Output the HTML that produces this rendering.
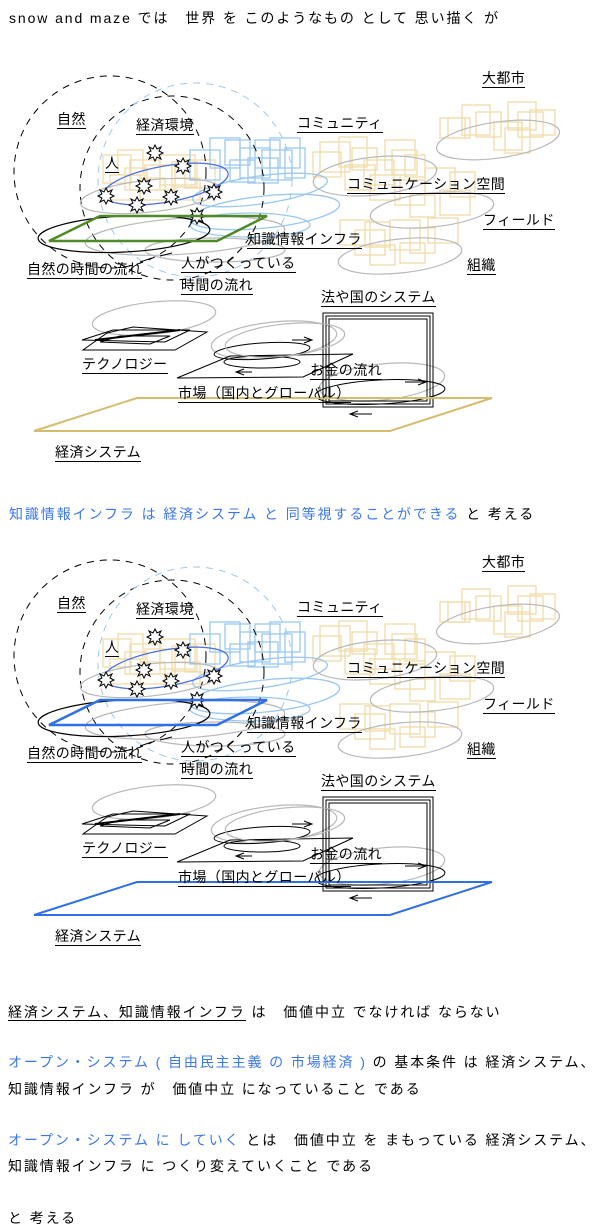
<!DOCTYPE html>
<html><head><meta charset="utf-8">
<style>
body{margin:0;width:600px;height:1229px;position:relative;background:#fff;font-family:"Liberation Sans","Noto Sans CJK JP",sans-serif;font-size:14px;color:#000;overflow:hidden}
.t{position:absolute;white-space:nowrap;line-height:16px;letter-spacing:1.9px}
.l{position:absolute;white-space:nowrap;line-height:15px;border-bottom:1.5px solid #000;padding-bottom:1px;letter-spacing:0.4px}
.b{color:#3b78e8}
svg{position:absolute;left:0;top:0}
</style></head><body>
<svg width="600" height="1229" viewBox="0 0 600 1229">
<defs>
<symbol id="st" viewBox="-8 -8 16 16" overflow="visible">
<polygon points="0,-8 2,-4 6,-6 4,-2 8,0 4,2 6,6 2,4 0,8 -2,4 -6,6 -4,2 -8,0 -4,-2 -6,-6 -2,-4" fill="#fff" stroke="#000" stroke-width="1"/>
</symbol>
<g id="d" fill="none">
 <g stroke="#f0dca8" stroke-width="1.3">
  <rect x="103" y="155" width="28" height="28"/><rect x="118" y="150" width="25" height="25"/><rect x="130" y="160" width="30" height="30"/><rect x="145" y="165" width="30" height="25"/><rect x="160" y="155" width="35" height="30"/><rect x="172" y="162" width="25" height="25"/><rect x="185" y="160" width="30" height="28"/><rect x="110" y="175" width="30" height="25"/><rect x="140" y="178" width="25" height="22"/><rect x="175" y="178" width="25" height="22"/><rect x="125" y="168" width="22" height="22"/>
  <rect x="440" y="118" width="25" height="20"/><rect x="462" y="105" width="28" height="30"/><rect x="476" y="112" width="25" height="25"/><rect x="508" y="102" width="28" height="28"/><rect x="518" y="112" width="25" height="25"/><rect x="494" y="122" width="28" height="28"/><rect x="505" y="128" width="25" height="25"/><rect x="448" y="118" width="22" height="20"/><rect x="530" y="110" width="25" height="25"/>
  <rect x="313" y="152" width="28" height="25"/><rect x="320" y="142" width="30" height="30"/><rect x="339" y="137" width="28" height="30"/><rect x="352" y="148" width="25" height="22"/><rect x="385" y="140" width="30" height="30"/><rect x="392" y="150" width="25" height="25"/><rect x="364" y="160" width="30" height="25"/><rect x="345" y="165" width="30" height="25"/><rect x="405" y="155" width="20" height="22"/>
  <rect x="370" y="175" width="30" height="25"/><rect x="395" y="180" width="30" height="25"/><rect x="425" y="168" width="30" height="25"/><rect x="450" y="172" width="25" height="25"/><rect x="440" y="190" width="30" height="25"/><rect x="410" y="195" width="25" height="22"/>
  <rect x="340" y="220" width="30" height="25"/><rect x="365" y="222" width="25" height="25"/><rect x="390" y="220" width="30" height="30"/><rect x="410" y="228" width="25" height="25"/><rect x="428" y="218" width="30" height="25"/><rect x="400" y="243" width="25" height="20"/><rect x="370" y="245" width="25" height="20"/><rect x="355" y="230" width="30" height="25"/>
 </g>
 <g stroke="#9cc8f0" stroke-width="1.3">
  <rect x="210" y="138" width="30" height="30"/><rect x="225" y="140" width="25" height="25"/><rect x="240" y="148" width="30" height="30"/><rect x="255" y="140" width="25" height="28"/><rect x="270" y="138" width="30" height="30"/><rect x="285" y="148" width="20" height="30"/><rect x="248" y="158" width="30" height="25"/><rect x="262" y="150" width="30" height="30"/><rect x="190" y="150" width="30" height="30"/><rect x="230" y="160" width="25" height="22"/>
  <ellipse cx="260" cy="190" rx="68" ry="14" transform="rotate(-8 260 190)"/>
  <ellipse cx="265" cy="212" rx="75" ry="16" transform="rotate(-6 265 212)"/>
  <ellipse cx="250" cy="225" rx="60" ry="12"/>
 </g>
 <circle cx="110" cy="172" r="96" stroke="#000" stroke-dasharray="7,6"/>
 <circle cx="172" cy="188" r="92" stroke="#000" stroke-dasharray="7,6"/>
 <circle cx="195" cy="180" r="97" stroke="#9cc8f0" stroke-dasharray="7,6"/>
 <g stroke="#b8b8b8" stroke-width="1.2">
  <ellipse cx="150" cy="196" rx="70" ry="16" transform="rotate(-6 150 196)"/>
  <ellipse cx="185" cy="236" rx="100" ry="18" transform="rotate(-4 185 236)"/>
  <ellipse cx="215" cy="250" rx="70" ry="12"/>
  <ellipse cx="498" cy="140" rx="62" ry="18" transform="rotate(-8 498 140)"/>
  <ellipse cx="375" cy="176" rx="62" ry="19" transform="rotate(-6 375 176)"/>
  <ellipse cx="432" cy="210" rx="62" ry="17" transform="rotate(-6 432 210)"/>
  <ellipse cx="400" cy="256" rx="62" ry="17" transform="rotate(-6 400 256)"/>
  <ellipse cx="154" cy="318" rx="62" ry="16" transform="rotate(-6 154 318)"/>
  <ellipse cx="274" cy="340" rx="63" ry="18" transform="rotate(-6 274 340)"/>
  <ellipse cx="382" cy="382" rx="63" ry="18" transform="rotate(-6 382 382)"/>
 </g>
 <ellipse cx="166" cy="184" rx="63" ry="18" transform="rotate(-10 166 184)" stroke="#4a70e0" stroke-width="1.2"/>
 <ellipse cx="124" cy="234" rx="86" ry="18" transform="rotate(-3 124 234)" stroke="#000" stroke-width="1.2"/>
 <use href="#st" x="147" y="145" width="16" height="16"/><use href="#st" x="175" y="158" width="16" height="16"/><use href="#st" x="136" y="178" width="16" height="16"/><use href="#st" x="98" y="188" width="16" height="16"/><use href="#st" x="163" y="189" width="16" height="16"/><use href="#st" x="189" y="208" width="16" height="16"/><use href="#st" x="129" y="197" width="16" height="16"/><use href="#st" x="206" y="184" width="16" height="16"/>
 <path d="M140 262 L152 258 M160 256 L172 253" stroke="#000"/>
 <g stroke="#000" stroke-width="1">
  <polygon points="107,333 133,327 207,332 175,350 83,350"/>
  <polygon points="82,340 113,330 190,330 165,342"/>
  <polygon points="100,342 120,336 170,336 150,344"/>
  <line x1="95" y1="340" x2="180" y2="330" stroke-width="2"/>
  <polygon points="177,378 230,356 353,354 303,377"/>
  <ellipse cx="262" cy="351" rx="48" ry="8" transform="rotate(-4 262 351)"/>
  <ellipse cx="262" cy="362" rx="38" ry="6"/>
  <ellipse cx="380" cy="392" rx="65" ry="12" transform="rotate(-3 380 392)"/>
  <rect x="323" y="313" width="110" height="94"/>
  <rect x="326" y="316" width="104" height="88"/>
  <rect x="329" y="319" width="98" height="82"/>
  <path d="M292 340 L310 340 M304 337 L312 340 L304 343 M236 372 L252 372 M244 369 L236 372 L244 375 M405 382 L426 382 M418 379 L426 382 L418 385 M350 414 L372 414 M358 411 L350 414 L358 417"/>
 </g>
 <g stroke="#b8b8b8" stroke-width="1.2">
  <ellipse cx="285" cy="340" rx="60" ry="16" transform="rotate(-6 285 340)"/>
 </g>
</g>
</defs>
<use href="#d"/>
<polygon points="100,216 267,216 217,241 49,241" fill="none" stroke="#4e8a25" stroke-width="2.5"/>
<polygon points="137,398 492,398 390,431 34,431" fill="none" stroke="#d6bc6e" stroke-width="2"/>
<use href="#d" y="484"/>
<polygon points="100,700 267,700 217,725 49,725" fill="none" stroke="#2f6fe8" stroke-width="2.5"/>
<polygon points="137,882 492,882 390,915 34,915" fill="none" stroke="#2f6fe8" stroke-width="2"/>
</svg>

<div class="t" style="left:9px;top:10px">snow and maze では　世界 を このようなもの として 思い描く が</div>

<div class="l" style="left:57px;top:112px">自然</div>
<div class="l" style="left:136px;top:118px">経済環境</div>
<div class="l" style="left:105px;top:156px">人</div>
<div class="l" style="left:247px;top:232px">知識情報インフラ</div>
<div class="l" style="left:27px;top:262px">自然の時間の流れ</div>
<div class="l" style="left:181px;top:256px">人がつくっている</div>
<div class="l" style="left:181px;top:278px">時間の流れ</div>
<div class="l" style="left:297px;top:116px">コミュニティ</div>
<div class="l" style="left:482px;top:71px">大都市</div>
<div class="l" style="left:347px;top:177px">コミュニケーション空間</div>
<div class="l" style="left:483px;top:213px">フィールド</div>
<div class="l" style="left:467px;top:258px">組織</div>
<div class="l" style="left:321px;top:290px">法や国のシステム</div>
<div class="l" style="left:82px;top:357px">テクノロジー</div>
<div class="l" style="left:310px;top:363px">お金の流れ</div>
<div class="l" style="left:178px;top:386px">市場（国内とグローバル）</div>
<div class="l" style="left:55px;top:445px">経済システム</div>

<div class="t" style="left:9px;top:506px"><span class="b">知識情報インフラ は 経済システム と 同等視することができる</span> と 考える</div>

<div class="l" style="left:57px;top:596px">自然</div>
<div class="l" style="left:136px;top:602px">経済環境</div>
<div class="l" style="left:105px;top:640px">人</div>
<div class="l" style="left:247px;top:716px">知識情報インフラ</div>
<div class="l" style="left:27px;top:746px">自然の時間の流れ</div>
<div class="l" style="left:181px;top:740px">人がつくっている</div>
<div class="l" style="left:181px;top:762px">時間の流れ</div>
<div class="l" style="left:297px;top:600px">コミュニティ</div>
<div class="l" style="left:482px;top:555px">大都市</div>
<div class="l" style="left:347px;top:661px">コミュニケーション空間</div>
<div class="l" style="left:483px;top:697px">フィールド</div>
<div class="l" style="left:467px;top:742px">組織</div>
<div class="l" style="left:321px;top:774px">法や国のシステム</div>
<div class="l" style="left:82px;top:841px">テクノロジー</div>
<div class="l" style="left:310px;top:847px">お金の流れ</div>
<div class="l" style="left:178px;top:870px">市場（国内とグローバル）</div>
<div class="l" style="left:55px;top:929px">経済システム</div>

<div class="t" style="left:8px;top:1004px"><span style="border-bottom:1.5px solid #000">経済システム、知識情報インフラ</span> は　価値中立 でなければ ならない</div>
<div class="t" style="left:8px;top:1054px"><span class="b">オープン・システム ( 自由民主主義 の 市場経済 )</span> の 基本条件 は 経済システム、</div>
<div class="t" style="left:8px;top:1081px">知識情報インフラ が　価値中立 になっていること である</div>
<div class="t" style="left:8px;top:1132px"><span class="b">オープン・システム に していく</span> とは　価値中立 を まもっている 経済システム、</div>
<div class="t" style="left:8px;top:1158px">知識情報インフラ に つくり変えていくこと である</div>
<div class="t" style="left:8px;top:1210px">と 考える</div>
</body></html>
